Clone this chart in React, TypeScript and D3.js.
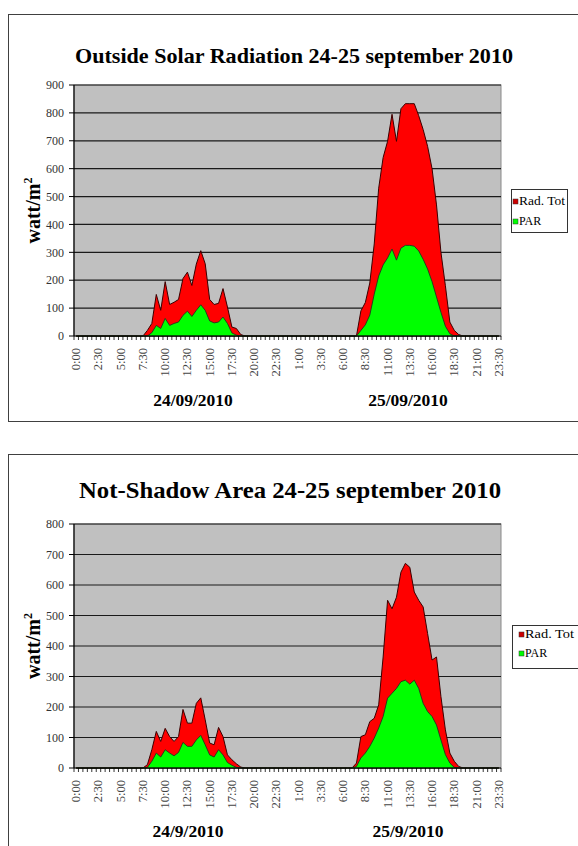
import React from 'react';
import * as d3 from 'd3';

// ---- DATA ----
const tickLabels = [
  '0:00', '2:30', '5:00', '7:30', '10:00', '12:30', '15:00', '17:30', '20:00', '22:30',
  '1:00', '3:30', '6:00', '8:30', '11:00', '13:30', '16:00', '18:30', '21:00', '23:30',
];
const seriesNames = ['Rad. Tot', 'PAR'];

// Outside Solar Radiation, half-hourly, 24-25/09/2010 (96 values)
const outsideRadTot = [
  0, 0, 0, 0, 0, 0, 0, 0, 0, 0, 0, 0,
  0, 0, 0, 0, 20, 45, 149, 92, 195, 113, 121, 131,
  206, 229, 181, 258, 306, 259, 131, 113, 117, 170, 104, 32,
  27, 5, 0, 0, 0, 0, 0, 0, 0, 0, 0, 0,
  0, 0, 0, 0, 0, 0, 0, 0, 0, 0, 0, 0,
  0, 0, 0, 0, 90, 120, 190, 330, 530, 640, 698, 795,
  698, 815, 833, 833, 833, 790, 740, 680, 600, 470, 300, 180,
  50, 20, 5, 0, 0, 0, 0, 0, 0, 0, 0, 0,
];
const outsidePar = [
  0, 0, 0, 0, 0, 0, 0, 0, 0, 0, 0, 0,
  0, 0, 0, 0, 0, 12, 38, 27, 63, 38, 45, 50,
  74, 89, 70, 92, 112, 92, 54, 47, 50, 68, 45, 11,
  3, 0, 0, 0, 0, 0, 0, 0, 0, 0, 0, 0,
  0, 0, 0, 0, 0, 0, 0, 0, 0, 0, 0, 0,
  0, 0, 0, 0, 20, 40, 75, 150, 215, 255, 280, 312,
  272, 315, 325, 325, 322, 305, 275, 240, 195, 140, 85, 35,
  8, 0, 0, 0, 0, 0, 0, 0, 0, 0, 0, 0,
];
// Not-Shadow Area, half-hourly, 24-25/09/2010 (96 values)
const shadowRadTot = [
  0, 0, 0, 0, 0, 0, 0, 0, 0, 0, 0, 0,
  0, 0, 0, 0, 11, 60, 120, 87, 130, 103, 87, 103,
  192, 147, 147, 212, 230, 158, 82, 76, 133, 103, 43, 27,
  14, 3, 0, 0, 0, 0, 0, 0, 0, 0, 0, 0,
  0, 0, 0, 0, 0, 0, 0, 0, 0, 0, 0, 0,
  0, 0, 0, 16, 103, 109, 152, 163, 207, 364, 550, 522,
  560, 642, 671, 658, 577, 550, 528, 441, 354, 364, 234, 125,
  49, 22, 5, 0, 0, 0, 0, 0, 0, 0, 0, 0,
];
const shadowPar = [
  0, 0, 0, 0, 0, 0, 0, 0, 0, 0, 0, 0,
  0, 0, 0, 0, 2, 22, 49, 36, 60, 49, 40, 51,
  84, 71, 71, 92, 107, 76, 43, 36, 60, 43, 18, 9,
  2, 0, 0, 0, 0, 0, 0, 0, 0, 0, 0, 0,
  0, 0, 0, 0, 0, 0, 0, 0, 0, 0, 0, 0,
  0, 0, 0, 5, 33, 49, 71, 98, 131, 169, 229, 245,
  261, 283, 288, 275, 288, 261, 212, 185, 169, 141, 92, 44,
  16, 2, 0, 0, 0, 0, 0, 0, 0, 0, 0, 0,
];
const outsideDates = ['24/09/2010', '25/09/2010'];
const shadowDates = ['24/9/2010', '25/9/2010'];

const SERIF = '"Liberation Serif", "Times New Roman", serif';
const RED = '#FF0000';
const GREEN = '#00FF00';

type Cfg = {
  frameTop: number; frameH: number;
  title: string; titleY: number; titleSize: number; titleX: number; titleLen: number;
  left: number; right: number; top: number; bottom: number; ymax: number;
  xlabTop: number; dateY: number; dateX: number[]; dates: string[];
  yTitleX: number;
  legX: number; legY: number; legW: number; legH: number; legRows: number[]; legMarkX: number; legTextLen: number;
  radTot: number[]; par: number[];
};

function Chart({ c }: { c: Cfg }) {
  const n = c.radTot.length;
  const x = d3.scaleBand<number>().domain(d3.range(n)).range([c.left, c.right]).padding(0);
  const bw = x.bandwidth();
  const cx = (i: number) => (x(i) as number) + bw / 2;
  const y = d3.scaleLinear().domain([0, c.ymax]).range([c.bottom, c.top]);
  const area = d3.area<number>().x((_, i) => cx(i)).y0(y(0)).y1((d) => y(d));
  const yTicks = d3.range(0, c.ymax + 1, 100);
  const boundaries = d3.range(n + 1).map((i) => c.left + i * bw);
  const tickIdx = tickLabels.map((_, k) => k * 5);
  const plotMidY = (c.top + c.bottom) / 2;
  return (
    <g>
      <rect x={8.5} y={c.frameTop + 0.5} width={620} height={c.frameH} fill="#fff" stroke="#404040" strokeWidth={1} />
      <text x={c.titleX} y={c.titleY} textAnchor="middle" fontFamily={SERIF} fontWeight="bold" fontSize={c.titleSize}
        textLength={c.titleLen} lengthAdjust="spacingAndGlyphs" fill="#000">{c.title}</text>
      {/* plot area */}
      <rect x={c.left} y={c.top} width={c.right - c.left} height={c.bottom - c.top} fill="#C0C0C0" stroke="#8a8a8a" strokeWidth={1} />
      {yTicks.filter((t) => t > 0).map((t) => (
        <line key={t} x1={c.left} x2={c.right} y1={y(t)} y2={y(t)} stroke="#1a1a1a" strokeWidth={1.2} />
      ))}
      {/* areas */}
      <path d={area(c.radTot) || ''} fill={RED} stroke="#3a0000" strokeWidth={1} strokeLinejoin="round" />
      <path d={area(c.par) || ''} fill={GREEN} stroke="#1e3a1e" strokeWidth={0.9} strokeLinejoin="round" />
      {/* axes */}
      <line x1={c.left} x2={c.left} y1={c.top} y2={c.bottom} stroke="#000" strokeWidth={1.2} />
      <line x1={c.left} x2={c.right} y1={c.bottom} y2={c.bottom} stroke="#000" strokeWidth={1.2} />
      {yTicks.map((t) => (
        <g key={t}>
          <line x1={c.left - 5} x2={c.left} y1={y(t)} y2={y(t)} stroke="#000" strokeWidth={1} />
          <text x={c.left - 10} y={y(t)} dy="0.35em" textAnchor="end" fontFamily={SERIF} fontSize={12} fill="#333">{t}</text>
        </g>
      ))}
      {boundaries.map((b, i) => (
        <line key={i} x1={b} x2={b} y1={c.bottom} y2={c.bottom + 4} stroke="#000" strokeWidth={0.8} />
      ))}
      {tickIdx.map((ti, k) => (
        <text key={k} transform={`translate(${cx(ti) + 4},${c.xlabTop}) rotate(-90)`} textAnchor="end"
          fontFamily={SERIF} fontSize={12.5} fill="#444">{tickLabels[k]}</text>
      ))}
      {c.dates.map((d, k) => (
        <text key={d} x={c.dateX[k]} y={c.dateY} textAnchor="middle" fontFamily={SERIF} fontWeight="bold" fontSize={17.5} fill="#000">{d}</text>
      ))}
      <text transform={`translate(${c.yTitleX},${plotMidY}) rotate(-90)`} textAnchor="middle" fontFamily={SERIF}
        fontWeight="bold" fontSize={20} fill="#000">watt/m<tspan fontSize={12} dy={-8}>2</tspan></text>
      {/* legend */}
      <rect x={c.legX + 0.5} y={c.legY + 0.5} width={c.legW} height={c.legH} fill="#fff" stroke="#333" strokeWidth={1} />
      {seriesNames.map((s, k) => (
        <g key={s}>
          <rect x={c.legMarkX} y={c.legRows[k] - 6} width={5} height={5} fill={k === 0 ? '#CC0000' : GREEN} stroke="#333" strokeWidth={0.5} />
          <text x={c.legMarkX + 6} y={c.legRows[k]} fontFamily={SERIF} fontSize={12} fill="#000"
            {...(k === 0 ? { textLength: c.legTextLen, lengthAdjust: 'spacingAndGlyphs' } : {})}>{s}</text>
        </g>
      ))}
    </g>
  );
}

export default function App() {
  const top: Cfg = {
    frameTop: 14, frameH: 407,
    title: 'Outside Solar Radiation 24-25 september 2010', titleY: 63, titleSize: 22, titleX: 294, titleLen: 438,
    left: 74, right: 501, top: 85, bottom: 336, ymax: 900,
    xlabTop: 348, dateY: 406, dateX: [193, 408], dates: outsideDates,
    yTitleX: 40,
    legX: 511, legY: 189, legW: 56, legH: 43, legRows: [205, 225], legMarkX: 513, legTextLen: 46,
    radTot: outsideRadTot, par: outsidePar,
  };
  const bottom: Cfg = {
    frameTop: 454, frameH: 420,
    title: 'Not-Shadow Area 24-25 september 2010', titleY: 498, titleSize: 24, titleX: 290, titleLen: 422,
    left: 74, right: 501, top: 524, bottom: 768, ymax: 800,
    xlabTop: 780, dateY: 837, dateX: [188, 408], dates: shadowDates,
    yTitleX: 40,
    legX: 512, legY: 625, legW: 66, legH: 43, legRows: [638, 657], legMarkX: 519, legTextLen: 49,
    radTot: shadowRadTot, par: shadowPar,
  };
  return (
    <svg width={578} height={846} style={{ position: 'absolute', left: 0, top: 0, background: '#fff' }}>
      <rect x={0} y={0} width={578} height={846} fill="#fff" />
      <Chart c={top} />
      <Chart c={bottom} />
    </svg>
  );
}
